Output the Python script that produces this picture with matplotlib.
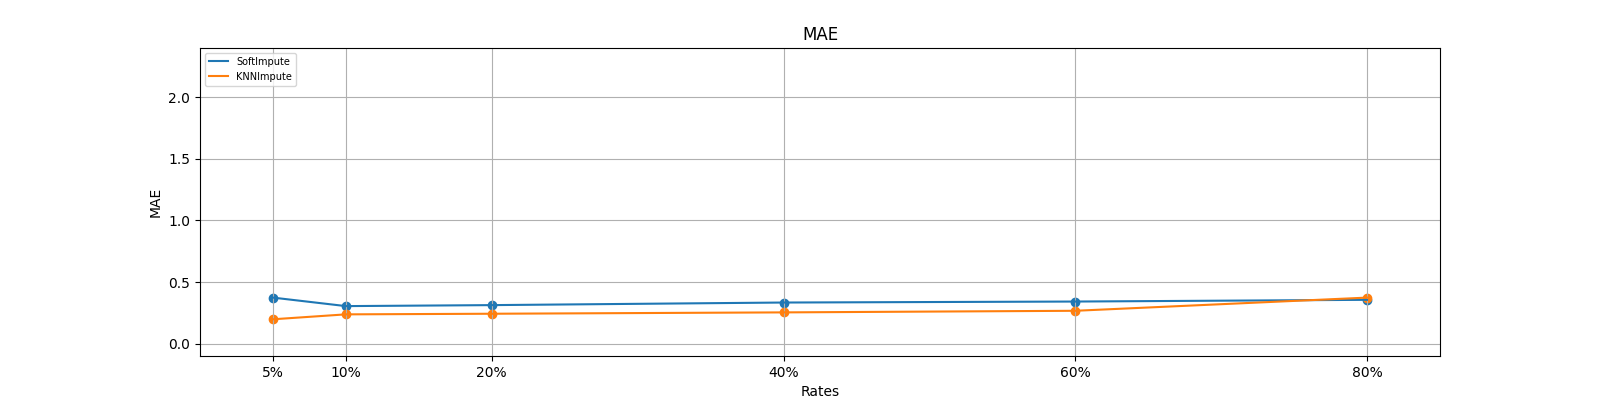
import matplotlib.pyplot as plt

rates = [5, 10, 20, 40, 60, 80]
rate_labels = ['5%', '10%', '20%', '40%', '60%', '80%']
soft_mae = [0.374, 0.305, 0.313, 0.334, 0.342, 0.356]
knn_mae = [0.198, 0.238, 0.243, 0.254, 0.267, 0.374]

plt.figure(figsize=(16, 4), dpi=100)

plt.plot(rates, soft_mae, color='C0', label='SoftImpute')
plt.scatter(rates, soft_mae, color='C0')
plt.plot(rates, knn_mae, color='C1', label='KNNImpute')
plt.scatter(rates, knn_mae, color='C1')

plt.title('MAE')
plt.xlabel('Rates')
plt.ylabel('MAE')
plt.xticks(rates, rate_labels)
plt.xlim(0, 85)
plt.ylim(-0.1, 2.4)
plt.grid(True)
plt.legend(loc='upper left', fontsize=7)

plt.savefig('out.png')
